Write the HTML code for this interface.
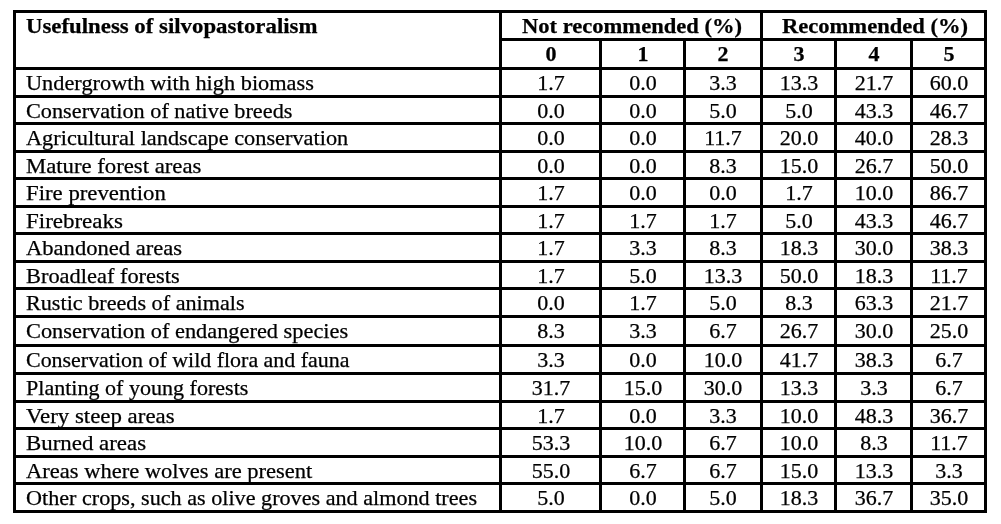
<!DOCTYPE html>
<html><head><meta charset="utf-8"><style>
html,body{margin:0;padding:0;background:#fff;}
body{width:1001px;height:524px;position:relative;overflow:hidden;font-family:"Liberation Serif",serif;color:#000;}
.l{position:absolute;background:#000;}
.t{position:absolute;font-size:21px;line-height:21px;white-space:nowrap;-webkit-text-stroke:0.25px #000;will-change:transform;}
.b{font-weight:bold;}
.lab{transform:scaleX(1.048);transform-origin:0 0;}
.num{width:120px;text-align:center;transform:scaleX(1.048);transform-origin:50% 0;}
.hd{width:300px;text-align:center;transform:scaleX(1.074);transform-origin:50% 0;}
</style></head><body>

<div class="l" style="left:13px;top:10px;width:974px;height:3px"></div>
<div class="l" style="left:13px;top:67px;width:974px;height:3px"></div>
<div class="l" style="left:13px;top:95px;width:974px;height:3px"></div>
<div class="l" style="left:13px;top:122px;width:974px;height:3px"></div>
<div class="l" style="left:13px;top:150px;width:974px;height:3px"></div>
<div class="l" style="left:13px;top:177px;width:974px;height:3px"></div>
<div class="l" style="left:13px;top:205px;width:974px;height:3px"></div>
<div class="l" style="left:13px;top:232px;width:974px;height:3px"></div>
<div class="l" style="left:13px;top:260px;width:974px;height:3px"></div>
<div class="l" style="left:13px;top:287px;width:974px;height:3px"></div>
<div class="l" style="left:13px;top:315px;width:974px;height:3px"></div>
<div class="l" style="left:13px;top:344px;width:974px;height:3px"></div>
<div class="l" style="left:13px;top:372px;width:974px;height:3px"></div>
<div class="l" style="left:13px;top:400px;width:974px;height:3px"></div>
<div class="l" style="left:13px;top:427px;width:974px;height:3px"></div>
<div class="l" style="left:13px;top:455px;width:974px;height:3px"></div>
<div class="l" style="left:13px;top:482px;width:974px;height:3px"></div>
<div class="l" style="left:13px;top:510px;width:974px;height:3px"></div>
<div class="l" style="left:499px;top:38px;width:488px;height:3px"></div>
<div class="l" style="left:13px;top:10px;width:3px;height:503px"></div>
<div class="l" style="left:499px;top:10px;width:3px;height:503px"></div>
<div class="l" style="left:760px;top:10px;width:3px;height:503px"></div>
<div class="l" style="left:984px;top:10px;width:3px;height:503px"></div>
<div class="l" style="left:599px;top:38px;width:3px;height:475px"></div>
<div class="l" style="left:683px;top:38px;width:3px;height:475px"></div>
<div class="l" style="left:834px;top:38px;width:3px;height:475px"></div>
<div class="l" style="left:910px;top:38px;width:3px;height:475px"></div>
<div class="t b lab" style="left:26px;top:16px;transform:scaleX(1.086)">Usefulness of silvopastoralism</div>
<div class="t b hd" style="left:482px;top:16px">Not recommended (%)</div>
<div class="t b hd" style="left:725px;top:16px">Recommended (%)</div>
<div class="t b num" style="left:490.79999999999995px;top:44px">0</div>
<div class="t b num" style="left:582.8px;top:44px">1</div>
<div class="t b num" style="left:663.3px;top:44px">2</div>
<div class="t b num" style="left:738.8px;top:44px">3</div>
<div class="t b num" style="left:813.8px;top:44px">4</div>
<div class="t b num" style="left:888.8px;top:44px">5</div>
<div class="t lab" style="left:26px;top:73px;transform:scaleX(1.0629)">Undergrowth with high biomass</div>
<div class="t num" style="left:490.79999999999995px;top:73px">1.7</div>
<div class="t num" style="left:582.8px;top:73px">0.0</div>
<div class="t num" style="left:663.3px;top:73px">3.3</div>
<div class="t num" style="left:738.8px;top:73px">13.3</div>
<div class="t num" style="left:813.8px;top:73px">21.7</div>
<div class="t num" style="left:888.8px;top:73px">60.0</div>
<div class="t lab" style="left:26px;top:101px;transform:scaleX(1.0600)">Conservation of native breeds</div>
<div class="t num" style="left:490.79999999999995px;top:101px">0.0</div>
<div class="t num" style="left:582.8px;top:101px">0.0</div>
<div class="t num" style="left:663.3px;top:101px">5.0</div>
<div class="t num" style="left:738.8px;top:101px">5.0</div>
<div class="t num" style="left:813.8px;top:101px">43.3</div>
<div class="t num" style="left:888.8px;top:101px">46.7</div>
<div class="t lab" style="left:26px;top:128px;transform:scaleX(1.0626)">Agricultural landscape conservation</div>
<div class="t num" style="left:490.79999999999995px;top:128px">0.0</div>
<div class="t num" style="left:582.8px;top:128px">0.0</div>
<div class="t num" style="left:663.3px;top:128px">11.7</div>
<div class="t num" style="left:738.8px;top:128px">20.0</div>
<div class="t num" style="left:813.8px;top:128px">40.0</div>
<div class="t num" style="left:888.8px;top:128px">28.3</div>
<div class="t lab" style="left:26px;top:156px;transform:scaleX(1.0819)">Mature forest areas</div>
<div class="t num" style="left:490.79999999999995px;top:156px">0.0</div>
<div class="t num" style="left:582.8px;top:156px">0.0</div>
<div class="t num" style="left:663.3px;top:156px">8.3</div>
<div class="t num" style="left:738.8px;top:156px">15.0</div>
<div class="t num" style="left:813.8px;top:156px">26.7</div>
<div class="t num" style="left:888.8px;top:156px">50.0</div>
<div class="t lab" style="left:26px;top:183px;transform:scaleX(1.0845)">Fire prevention</div>
<div class="t num" style="left:490.79999999999995px;top:183px">1.7</div>
<div class="t num" style="left:582.8px;top:183px">0.0</div>
<div class="t num" style="left:663.3px;top:183px">0.0</div>
<div class="t num" style="left:738.8px;top:183px">1.7</div>
<div class="t num" style="left:813.8px;top:183px">10.0</div>
<div class="t num" style="left:888.8px;top:183px">86.7</div>
<div class="t lab" style="left:26px;top:211px;transform:scaleX(1.0934)">Firebreaks</div>
<div class="t num" style="left:490.79999999999995px;top:211px">1.7</div>
<div class="t num" style="left:582.8px;top:211px">1.7</div>
<div class="t num" style="left:663.3px;top:211px">1.7</div>
<div class="t num" style="left:738.8px;top:211px">5.0</div>
<div class="t num" style="left:813.8px;top:211px">43.3</div>
<div class="t num" style="left:888.8px;top:211px">46.7</div>
<div class="t lab" style="left:26px;top:238px;transform:scaleX(1.0747)">Abandoned areas</div>
<div class="t num" style="left:490.79999999999995px;top:238px">1.7</div>
<div class="t num" style="left:582.8px;top:238px">3.3</div>
<div class="t num" style="left:663.3px;top:238px">8.3</div>
<div class="t num" style="left:738.8px;top:238px">18.3</div>
<div class="t num" style="left:813.8px;top:238px">30.0</div>
<div class="t num" style="left:888.8px;top:238px">38.3</div>
<div class="t lab" style="left:26px;top:266px;transform:scaleX(1.0671)">Broadleaf forests</div>
<div class="t num" style="left:490.79999999999995px;top:266px">1.7</div>
<div class="t num" style="left:582.8px;top:266px">5.0</div>
<div class="t num" style="left:663.3px;top:266px">13.3</div>
<div class="t num" style="left:738.8px;top:266px">50.0</div>
<div class="t num" style="left:813.8px;top:266px">18.3</div>
<div class="t num" style="left:888.8px;top:266px">11.7</div>
<div class="t lab" style="left:26px;top:293px;transform:scaleX(1.0558)">Rustic breeds of animals</div>
<div class="t num" style="left:490.79999999999995px;top:293px">0.0</div>
<div class="t num" style="left:582.8px;top:293px">1.7</div>
<div class="t num" style="left:663.3px;top:293px">5.0</div>
<div class="t num" style="left:738.8px;top:293px">8.3</div>
<div class="t num" style="left:813.8px;top:293px">63.3</div>
<div class="t num" style="left:888.8px;top:293px">21.7</div>
<div class="t lab" style="left:26px;top:321px;transform:scaleX(1.0644)">Conservation of endangered species</div>
<div class="t num" style="left:490.79999999999995px;top:321px">8.3</div>
<div class="t num" style="left:582.8px;top:321px">3.3</div>
<div class="t num" style="left:663.3px;top:321px">6.7</div>
<div class="t num" style="left:738.8px;top:321px">26.7</div>
<div class="t num" style="left:813.8px;top:321px">30.0</div>
<div class="t num" style="left:888.8px;top:321px">25.0</div>
<div class="t lab" style="left:26px;top:350px;transform:scaleX(1.0447)">Conservation of wild flora and fauna</div>
<div class="t num" style="left:490.79999999999995px;top:350px">3.3</div>
<div class="t num" style="left:582.8px;top:350px">0.0</div>
<div class="t num" style="left:663.3px;top:350px">10.0</div>
<div class="t num" style="left:738.8px;top:350px">41.7</div>
<div class="t num" style="left:813.8px;top:350px">38.3</div>
<div class="t num" style="left:888.8px;top:350px">6.7</div>
<div class="t lab" style="left:26px;top:378px;transform:scaleX(1.0504)">Planting of young forests</div>
<div class="t num" style="left:490.79999999999995px;top:378px">31.7</div>
<div class="t num" style="left:582.8px;top:378px">15.0</div>
<div class="t num" style="left:663.3px;top:378px">30.0</div>
<div class="t num" style="left:738.8px;top:378px">13.3</div>
<div class="t num" style="left:813.8px;top:378px">3.3</div>
<div class="t num" style="left:888.8px;top:378px">6.7</div>
<div class="t lab" style="left:26px;top:406px;transform:scaleX(1.0892)">Very steep areas</div>
<div class="t num" style="left:490.79999999999995px;top:406px">1.7</div>
<div class="t num" style="left:582.8px;top:406px">0.0</div>
<div class="t num" style="left:663.3px;top:406px">3.3</div>
<div class="t num" style="left:738.8px;top:406px">10.0</div>
<div class="t num" style="left:813.8px;top:406px">48.3</div>
<div class="t num" style="left:888.8px;top:406px">36.7</div>
<div class="t lab" style="left:26px;top:433px;transform:scaleX(1.0897)">Burned areas</div>
<div class="t num" style="left:490.79999999999995px;top:433px">53.3</div>
<div class="t num" style="left:582.8px;top:433px">10.0</div>
<div class="t num" style="left:663.3px;top:433px">6.7</div>
<div class="t num" style="left:738.8px;top:433px">10.0</div>
<div class="t num" style="left:813.8px;top:433px">8.3</div>
<div class="t num" style="left:888.8px;top:433px">11.7</div>
<div class="t lab" style="left:26px;top:461px;transform:scaleX(1.0721)">Areas where wolves are present</div>
<div class="t num" style="left:490.79999999999995px;top:461px">55.0</div>
<div class="t num" style="left:582.8px;top:461px">6.7</div>
<div class="t num" style="left:663.3px;top:461px">6.7</div>
<div class="t num" style="left:738.8px;top:461px">15.0</div>
<div class="t num" style="left:813.8px;top:461px">13.3</div>
<div class="t num" style="left:888.8px;top:461px">3.3</div>
<div class="t lab" style="left:26px;top:488px;transform:scaleX(1.0551)">Other crops, such as olive groves and almond trees</div>
<div class="t num" style="left:490.79999999999995px;top:488px">5.0</div>
<div class="t num" style="left:582.8px;top:488px">0.0</div>
<div class="t num" style="left:663.3px;top:488px">5.0</div>
<div class="t num" style="left:738.8px;top:488px">18.3</div>
<div class="t num" style="left:813.8px;top:488px">36.7</div>
<div class="t num" style="left:888.8px;top:488px">35.0</div>
</body></html>
